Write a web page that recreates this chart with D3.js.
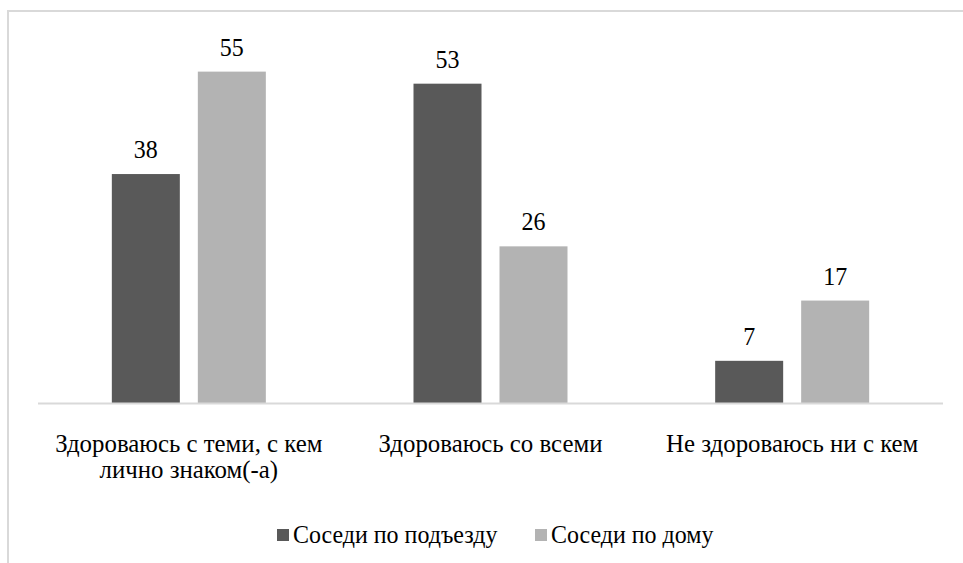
<!DOCTYPE html>
<html>
<head>
<meta charset="utf-8">
<script src="https://cdn.jsdelivr.net/npm/d3@7"></script>
<style>
  body { margin: 0; background: #fff; }
</style>
</head>
<body>
<svg id="chart" width="963" height="563"></svg>
<script>
// categories and series
const categories = ["Здороваюсь с теми, с кем лично знаком(-а)", "Здороваюсь со всеми", "Не здороваюсь ни с кем"];
const categoryLines = [["Здороваюсь с теми, с кем", "лично знаком(-а)"], ["Здороваюсь со всеми"], ["Не здороваюсь ни с кем"]];
const seriesNames = ["Соседи по подъезду", "Соседи по дому"];
const entrance = [38, 53, 7];
const house = [55, 26, 17];

const colors = ["#595959", "#b3b3b3"];
const font = "Liberation Serif";
// serif glyphs are kept at 22px and scaled up (larger sizes switch face)
const baseSize = 22;

const svg = d3.select("#chart");

// chart frame (partly cut off by the window)
svg.append("rect")
  .attr("x", 8).attr("y", 11)
  .attr("width", 1000).attr("height", 600)
  .attr("fill", "none")
  .attr("stroke", "#d9d9d9")
  .attr("stroke-width", 2);

const margin = { left: 38, right: 20, baseline: 403 };

const x = d3.scaleBand()
  .domain(categories)
  .range([margin.left, 943]);

const x1 = d3.scaleBand()
  .domain(seriesNames)
  .range([0, 68 * 2 + 18])
  .paddingInner(18 / 86);

const y = d3.scaleLinear().domain([0, 60]).range([margin.baseline, margin.baseline - 361.5]);

const data = categories.map((c, i) => ({
  cat: c,
  values: [
    { s: seriesNames[0], v: entrance[i], color: colors[0] },
    { s: seriesNames[1], v: house[i], color: colors[1] }
  ]
}));

const groups = svg.selectAll("g.grp")
  .data(data)
  .enter()
  .append("g")
  .attr("class", "grp")
  .attr("transform", d => "translate(" + (x(d.cat) + x.bandwidth() / 2 - x1.range()[1] / 2) + ",0)");

groups.selectAll("rect")
  .data(d => d.values)
  .enter()
  .append("rect")
  .attr("x", d => x1(d.s))
  .attr("y", d => y(d.v))
  .attr("width", x1.bandwidth())
  .attr("height", d => y(0) - y(d.v))
  .attr("fill", d => d.color);

groups.selectAll("g.val")
  .data(d => d.values)
  .enter()
  .append("g")
  .attr("class", "val")
  .attr("transform", d => "translate(" + (x1(d.s) + x1.bandwidth() / 2) + "," + (y(d.v) - 16) + ") scale(1.09,1.15)")
  .append("text")
  .attr("text-anchor", "middle")
  .attr("font-family", font)
  .attr("font-size", baseSize)
  .attr("fill", "#000")
  .text(d => d.v);

// x axis line
svg.append("line")
  .attr("x1", margin.left).attr("x2", 943)
  .attr("y1", y(0) + 0.5).attr("y2", y(0) + 0.5)
  .attr("stroke", "#d9d9d9")
  .attr("stroke-width", 2);

// category labels
categories.forEach((c, i) => {
  const t = svg.append("g")
    .attr("transform", "translate(" + (x(c) + x.bandwidth() / 2) + ",452) scale(1.13,1.17)")
    .append("text")
    .attr("text-anchor", "middle")
    .attr("font-family", font)
    .attr("font-size", baseSize)
    .attr("fill", "#000");
  categoryLines[i].forEach((line, j) => {
    t.append("tspan")
      .attr("x", 0)
      .attr("dy", j === 0 ? 0 : 26 / 1.17)
      .text(line);
  });
});

// legend
const legendX = [277, 535];
seriesNames.forEach((s, i) => {
  svg.append("rect")
    .attr("x", legendX[i]).attr("y", 529)
    .attr("width", 12).attr("height", 12)
    .attr("fill", colors[i]);
  svg.append("g")
    .attr("transform", "translate(" + (legendX[i] + 16) + ",543) scale(1.09,1.15)")
    .append("text")
    .attr("font-family", font)
    .attr("font-size", baseSize)
    .attr("fill", "#000")
    .text(s);
});
</script>
</body>
</html>
